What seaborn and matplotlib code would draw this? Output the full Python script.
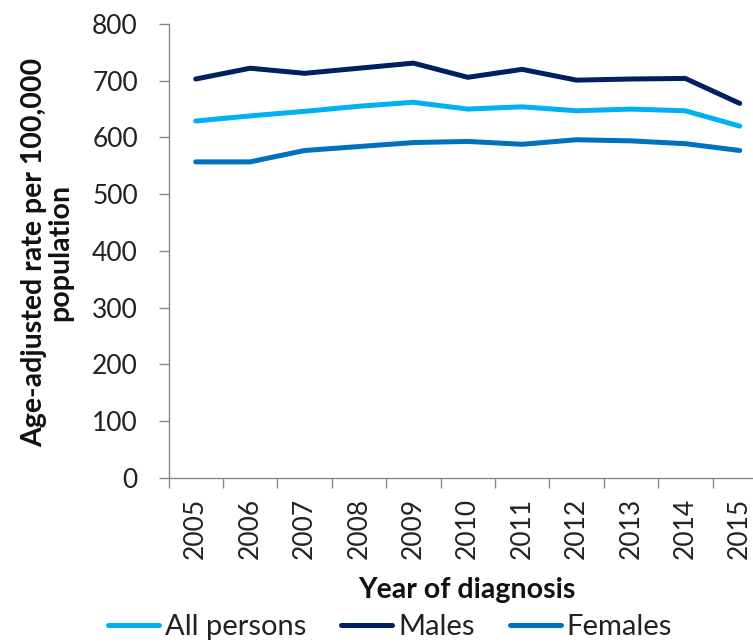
import numpy as np
import pandas as pd
import matplotlib
matplotlib.use('Agg')
import matplotlib.pyplot as plt
import seaborn as sns

### Dados
anos = ['2005', '2006', '2007', '2008', '2009', '2010', '2011', '2012', '2013', '2014', '2015']
todos = [629, 638, 646, 655, 662, 650, 654, 647, 650, 647, 620]
homens = [703, 722, 713, 722, 731, 706, 720, 701, 703, 704, 660]
mulheres = [557, 557, 577, 584, 591, 593, 588, 596, 594, 589, 577]

series = ['All persons', 'Males', 'Females']
cores = ['#00B0F0', '#002060', '#0070C0']

df = pd.DataFrame({
    'Ano': anos * 3,
    'Taxa': todos + homens + mulheres,
    'Grupo': [series[0]] * len(anos) + [series[1]] * len(anos) + [series[2]] * len(anos),
})

sns.set_style('white')
plt.rcParams['font.family'] = ['Lato', 'DejaVu Sans']

fig = plt.figure(figsize=(7.53, 6.44), dpi=100)
ax = fig.add_axes([0.2238, 0.2578, 0.7947, 0.705])

sns.lineplot(data=df, x='Ano', y='Taxa', hue='Grupo', hue_order=series,
             palette=cores, linewidth=3.6, sort=False, ax=ax, legend=True)

ax.set_xlim(-0.5, 10.5)
ax.set_ylim(0, 800)
ax.set_yticks(range(0, 801, 100))
ax.tick_params(axis='y', labelsize=19, length=7, width=1, color='#888888',
               direction='out', pad=15, left=True, labelcolor='#222222')
ax.set_xticks(range(len(anos)))
ax.set_xticklabels(anos, rotation=90)
ax.tick_params(axis='x', which='major', length=0, labelsize=19, pad=14,
               labelcolor='#222222')
ax.set_xticks(np.arange(-0.5, 11, 1), minor=True)
ax.tick_params(axis='x', which='minor', length=7, width=1, color='#888888',
               direction='out', bottom=True)

for lado in ['top', 'right']:
    ax.spines[lado].set_visible(False)
for lado in ['left', 'bottom']:
    ax.spines[lado].set_color('#888888')
    ax.spines[lado].set_linewidth(1)

ax.set_xlabel('')
ax.set_ylabel('')
fig.text(47 / 753, 1 - 252 / 644, 'Age-adjusted rate per 100,000\npopulation',
         rotation=90, ha='center', va='center', fontsize=20.5,
         fontweight='bold', linespacing=1.0, color='#111111')
fig.text(467 / 753, 1 - 590 / 644, 'Year of diagnosis', ha='center', va='center',
         fontsize=20.5, fontweight='bold', color='#111111')

handles, labels = ax.get_legend_handles_labels()
ax.get_legend().remove()
fig.legend(handles, labels, loc='center', bbox_to_anchor=(390 / 753, 1 - 627 / 644),
           ncol=3, frameon=False, fontsize=21, handlelength=1.75,
           handletextpad=0.2, columnspacing=1.2, labelcolor='#222222')

fig.savefig('out.png', dpi=100)
